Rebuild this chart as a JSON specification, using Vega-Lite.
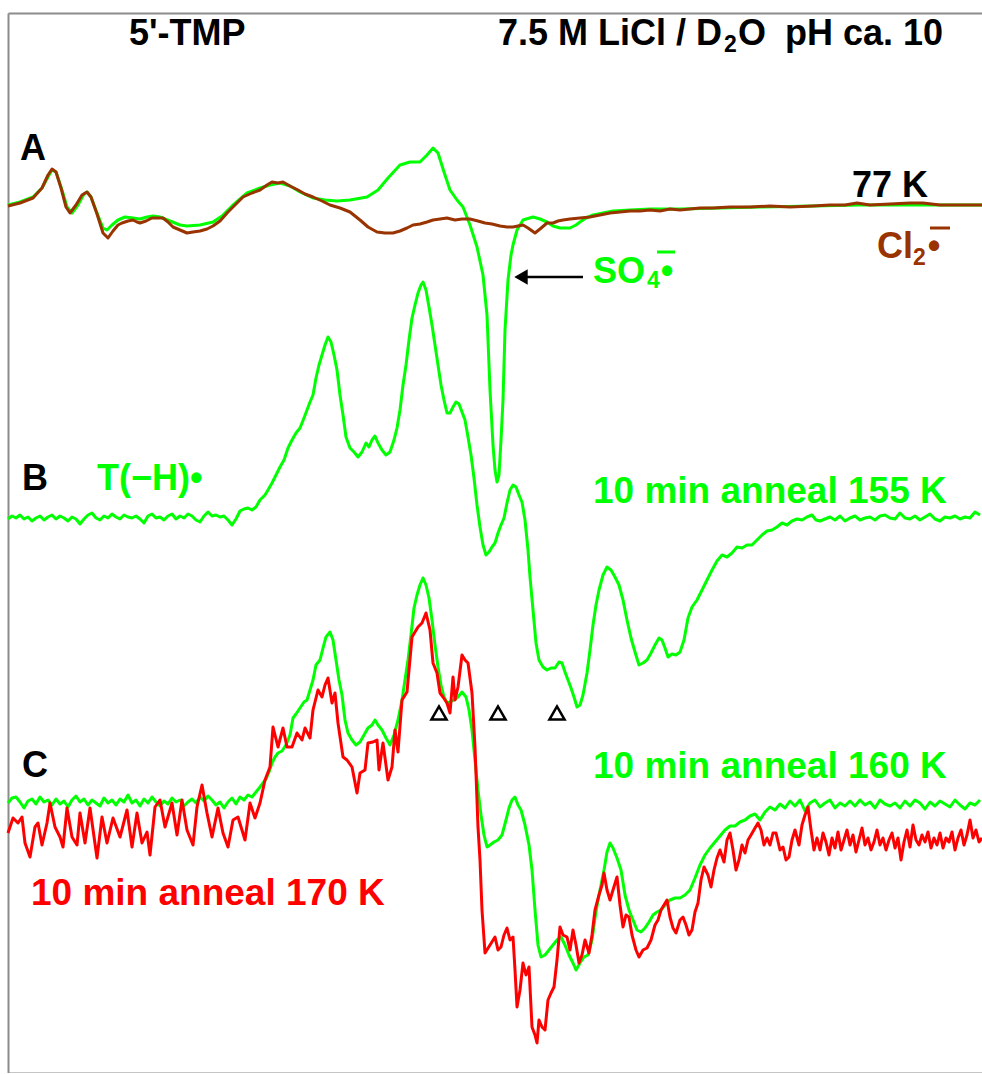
{
  "$schema": "https://vega.github.io/schema/vega-lite/v6.json",
  "description": "ESR spectra of 5'-TMP in 7.5 M LiCl / D2O: (A) 77 K with SO4 and Cl2 radical anions, (B) after 10 min anneal at 155 K, (C) after anneals at 160 K and 170 K. Traces are offset vertically.",
  "width": 974,
  "height": 1060,
  "padding": {"left": 8, "top": 13, "right": 0, "bottom": 0},
  "autosize": {"type": "none"},
  "background": "white",
  "config": {
    "view": {"stroke": null},
    "axis": {"domainColor": "#8c8c8c", "domainWidth": 2, "ticks": false, "labels": false, "grid": false},
    "text": {"font": "Liberation Sans", "fontWeight": "bold"}
  },
  "datasets": {
    "so4_77K": [
      {"x":8,"y":868},{"x":20,"y":871},{"x":33,"y":876},{"x":42,"y":885},{"x":48,"y":896},{"x":52,"y":903},{"x":56,"y":901},{"x":62,"y":883},{"x":67,"y":866},{"x":72,"y":860},{"x":78,"y":868},{"x":84,"y":879},{"x":87,"y":881},{"x":91,"y":876},{"x":97,"y":860},{"x":103,"y":845},{"x":107,"y":843},{"x":112,"y":848},{"x":118,"y":853},{"x":125,"y":856},{"x":133,"y":855},{"x":140,"y":854},{"x":147,"y":856},{"x":153,"y":857},{"x":160,"y":856},{"x":170,"y":852},{"x":180,"y":848},{"x":187,"y":847},{"x":200,"y":848},{"x":213,"y":851},{"x":222,"y":857},{"x":232,"y":867},{"x":247,"y":880},{"x":260,"y":885},{"x":270,"y":888},{"x":280,"y":890},{"x":290,"y":887},{"x":300,"y":881},{"x":313,"y":875},{"x":325,"y":873},{"x":337,"y":872},{"x":350,"y":873},{"x":367,"y":876},{"x":378,"y":883},{"x":388,"y":895},{"x":400,"y":908},{"x":410,"y":911},{"x":420,"y":911},{"x":427,"y":918},{"x":433,"y":925},{"x":438,"y":920},{"x":444,"y":901},{"x":450,"y":883},{"x":457,"y":873},{"x":463,"y":866},{"x":470,"y":848},{"x":477,"y":826},{"x":483,"y":798},{"x":487,"y":758},{"x":490,"y":683},{"x":493,"y":628},{"x":495,"y":603},{"x":497,"y":591},{"x":499,"y":598},{"x":501,"y":633},{"x":503,"y":673},{"x":505,"y":743},{"x":508,"y":793},{"x":511,"y":818},{"x":513,"y":828},{"x":517,"y":843},{"x":523,"y":853},{"x":533,"y":856},{"x":540,"y":854},{"x":547,"y":851},{"x":553,"y":847},{"x":560,"y":845},{"x":570,"y":845},{"x":576,"y":848},{"x":580,"y":851},{"x":586,"y":855},{"x":593,"y":858},{"x":603,"y":860},{"x":613,"y":862},{"x":630,"y":863},{"x":650,"y":864},{"x":680,"y":864},{"x":720,"y":865},{"x":760,"y":866},{"x":813,"y":867},{"x":860,"y":868},{"x":920,"y":868},{"x":982,"y":868}
    ],
    "cl2_77K": [
      {"x":8,"y":867},{"x":20,"y":870},{"x":33,"y":875},{"x":42,"y":885},{"x":48,"y":898},{"x":52,"y":904},{"x":56,"y":901},{"x":61,"y":885},{"x":66,"y":866},{"x":70,"y":860},{"x":76,"y":868},{"x":82,"y":878},{"x":87,"y":881},{"x":91,"y":876},{"x":97,"y":859},{"x":103,"y":840},{"x":108,"y":835},{"x":113,"y":842},{"x":118,"y":848},{"x":122,"y":850},{"x":128,"y":852},{"x":133,"y":853},{"x":137,"y":851},{"x":140,"y":850},{"x":146,"y":852},{"x":152,"y":855},{"x":157,"y":855},{"x":163,"y":855},{"x":168,"y":851},{"x":173,"y":846},{"x":180,"y":843},{"x":187,"y":840},{"x":193,"y":841},{"x":200,"y":842},{"x":207,"y":844},{"x":213,"y":847},{"x":220,"y":852},{"x":228,"y":861},{"x":236,"y":869},{"x":243,"y":876},{"x":252,"y":880},{"x":260,"y":883},{"x":267,"y":888},{"x":272,"y":891},{"x":278,"y":890},{"x":283,"y":891},{"x":290,"y":887},{"x":298,"y":883},{"x":305,"y":879},{"x":313,"y":876},{"x":322,"y":872},{"x":330,"y":868},{"x":340,"y":865},{"x":350,"y":861},{"x":360,"y":853},{"x":368,"y":846},{"x":377,"y":841},{"x":385,"y":840},{"x":393,"y":840},{"x":400,"y":842},{"x":407,"y":845},{"x":413,"y":848},{"x":420,"y":849},{"x":427,"y":851},{"x":433,"y":853},{"x":440,"y":854},{"x":447,"y":855},{"x":455,"y":853},{"x":462,"y":854},{"x":470,"y":854},{"x":478,"y":852},{"x":485,"y":850},{"x":492,"y":849},{"x":500,"y":847},{"x":507,"y":846},{"x":513,"y":846},{"x":518,"y":847},{"x":523,"y":848},{"x":528,"y":845},{"x":535,"y":840},{"x":540,"y":844},{"x":547,"y":850},{"x":553,"y":850},{"x":558,"y":852},{"x":563,"y":853},{"x":570,"y":854},{"x":580,"y":855},{"x":590,"y":856},{"x":600,"y":858},{"x":610,"y":860},{"x":620,"y":861},{"x":630,"y":862},{"x":640,"y":862},{"x":650,"y":863},{"x":660,"y":862},{"x":670,"y":864},{"x":680,"y":863},{"x":690,"y":864},{"x":700,"y":865},{"x":713,"y":865},{"x":730,"y":866},{"x":750,"y":866},{"x":770,"y":867},{"x":790,"y":866},{"x":813,"y":867},{"x":830,"y":868},{"x":845,"y":868},{"x":857,"y":870},{"x":870,"y":868},{"x":890,"y":869},{"x":910,"y":870},{"x":923,"y":870},{"x":940,"y":868},{"x":960,"y":868},{"x":982,"y":868}
    ],
    "anneal155": [
      {"x":8,"y":554},{"x":12,"y":557},{"x":16,"y":555},{"x":20,"y":558},{"x":24,"y":554},{"x":28,"y":556},{"x":32,"y":552},{"x":36,"y":555},{"x":40,"y":557},{"x":44,"y":553},{"x":48,"y":556},{"x":52,"y":558},{"x":56,"y":554},{"x":60,"y":557},{"x":64,"y":555},{"x":68,"y":552},{"x":72,"y":556},{"x":76,"y":554},{"x":80,"y":549},{"x":84,"y":554},{"x":88,"y":558},{"x":92,"y":560},{"x":96,"y":555},{"x":100,"y":553},{"x":104,"y":557},{"x":108,"y":555},{"x":112,"y":559},{"x":116,"y":556},{"x":120,"y":554},{"x":124,"y":558},{"x":128,"y":556},{"x":132,"y":555},{"x":136,"y":557},{"x":140,"y":554},{"x":144,"y":550},{"x":148,"y":557},{"x":152,"y":559},{"x":156,"y":555},{"x":160,"y":556},{"x":164,"y":553},{"x":168,"y":557},{"x":172,"y":559},{"x":176,"y":554},{"x":180,"y":557},{"x":184,"y":555},{"x":188,"y":559},{"x":192,"y":557},{"x":196,"y":553},{"x":200,"y":551},{"x":204,"y":557},{"x":208,"y":561},{"x":212,"y":557},{"x":216,"y":558},{"x":220,"y":556},{"x":224,"y":557},{"x":228,"y":553},{"x":232,"y":548},{"x":236,"y":554},{"x":240,"y":562},{"x":244,"y":564},{"x":248,"y":565},{"x":252,"y":563},{"x":256,"y":566},{"x":260,"y":573},{"x":265,"y":578},{"x":268,"y":583},{"x":272,"y":590},{"x":276,"y":598},{"x":280,"y":606},{"x":284,"y":613},{"x":288,"y":625},{"x":292,"y":633},{"x":296,"y":640},{"x":300,"y":645},{"x":304,"y":655},{"x":307,"y":663},{"x":310,"y":671},{"x":313,"y":678},{"x":316,"y":695},{"x":319,"y":708},{"x":322,"y":718},{"x":325,"y":728},{"x":328,"y":736},{"x":331,"y":731},{"x":334,"y":718},{"x":337,"y":703},{"x":340,"y":678},{"x":343,"y":658},{"x":346,"y":636},{"x":350,"y":625},{"x":354,"y":621},{"x":358,"y":616},{"x":362,"y":621},{"x":366,"y":630},{"x":369,"y":626},{"x":372,"y":633},{"x":375,"y":637},{"x":378,"y":630},{"x":382,"y":623},{"x":386,"y":618},{"x":390,"y":621},{"x":394,"y":633},{"x":397,"y":645},{"x":400,"y":663},{"x":403,"y":688},{"x":406,"y":708},{"x":409,"y":733},{"x":412,"y":755},{"x":415,"y":768},{"x":418,"y":780},{"x":421,"y":788},{"x":423,"y":791},{"x":426,"y":783},{"x":429,"y":766},{"x":432,"y":748},{"x":435,"y":728},{"x":438,"y":708},{"x":441,"y":688},{"x":444,"y":673},{"x":447,"y":660},{"x":450,"y":660},{"x":453,"y":666},{"x":456,"y":671},{"x":459,"y":669},{"x":462,"y":661},{"x":465,"y":653},{"x":468,"y":636},{"x":471,"y":618},{"x":474,"y":595},{"x":477,"y":568},{"x":480,"y":546},{"x":483,"y":528},{"x":486,"y":518},{"x":489,"y":521},{"x":492,"y":526},{"x":495,"y":530},{"x":498,"y":540},{"x":501,"y":548},{"x":504,"y":555},{"x":507,"y":570},{"x":510,"y":583},{"x":513,"y":588},{"x":516,"y":586},{"x":519,"y":578},{"x":522,"y":571},{"x":525,"y":553},{"x":528,"y":523},{"x":530,"y":496},{"x":533,"y":463},{"x":536,"y":430},{"x":539,"y":413},{"x":543,"y":406},{"x":547,"y":403},{"x":551,"y":405},{"x":555,"y":405},{"x":559,"y":411},{"x":562,"y":410},{"x":565,"y":401},{"x":568,"y":393},{"x":571,"y":385},{"x":574,"y":376},{"x":577,"y":366},{"x":580,"y":368},{"x":583,"y":378},{"x":587,"y":400},{"x":590,"y":423},{"x":593,"y":448},{"x":596,"y":468},{"x":599,"y":483},{"x":603,"y":498},{"x":607,"y":506},{"x":611,"y":503},{"x":615,"y":496},{"x":619,"y":488},{"x":623,"y":473},{"x":627,"y":453},{"x":631,"y":435},{"x":635,"y":421},{"x":639,"y":408},{"x":643,"y":410},{"x":647,"y":413},{"x":651,"y":420},{"x":655,"y":428},{"x":659,"y":435},{"x":662,"y":433},{"x":665,"y":425},{"x":668,"y":416},{"x":672,"y":419},{"x":676,"y":418},{"x":680,"y":421},{"x":684,"y":433},{"x":688,"y":455},{"x":692,"y":466},{"x":697,"y":473},{"x":702,"y":483},{"x":707,"y":493},{"x":712,"y":503},{"x":717,"y":512},{"x":722,"y":518},{"x":727,"y":516},{"x":732,"y":520},{"x":737,"y":526},{"x":742,"y":525},{"x":747,"y":528},{"x":752,"y":528},{"x":757,"y":533},{"x":762,"y":538},{"x":767,"y":542},{"x":772,"y":543},{"x":777,"y":546},{"x":782,"y":550},{"x":787,"y":548},{"x":792,"y":552},{"x":797,"y":554},{"x":802,"y":553},{"x":807,"y":556},{"x":812,"y":558},{"x":816,"y":553},{"x":820,"y":552},{"x":825,"y":554},{"x":830,"y":556},{"x":835,"y":553},{"x":840,"y":557},{"x":845,"y":552},{"x":850,"y":555},{"x":855,"y":557},{"x":860,"y":553},{"x":865,"y":555},{"x":870,"y":556},{"x":875,"y":553},{"x":880,"y":557},{"x":885,"y":558},{"x":890,"y":555},{"x":895,"y":554},{"x":900,"y":560},{"x":905,"y":555},{"x":910,"y":554},{"x":915,"y":557},{"x":920,"y":553},{"x":925,"y":556},{"x":930,"y":559},{"x":935,"y":554},{"x":940,"y":552},{"x":945,"y":556},{"x":950,"y":555},{"x":955,"y":557},{"x":960,"y":554},{"x":965,"y":556},{"x":970,"y":555},{"x":975,"y":561},{"x":980,"y":558}
    ],
    "anneal160": [
      {"x":8,"y":270},{"x":12,"y":275},{"x":16,"y":276},{"x":20,"y":271},{"x":24,"y":265},{"x":28,"y":272},{"x":32,"y":274},{"x":36,"y":269},{"x":40,"y":276},{"x":44,"y":271},{"x":48,"y":273},{"x":52,"y":268},{"x":56,"y":274},{"x":60,"y":269},{"x":64,"y":272},{"x":68,"y":266},{"x":72,"y":273},{"x":76,"y":277},{"x":80,"y":271},{"x":84,"y":274},{"x":88,"y":268},{"x":92,"y":273},{"x":96,"y":270},{"x":100,"y":267},{"x":104,"y":275},{"x":108,"y":270},{"x":112,"y":273},{"x":116,"y":268},{"x":120,"y":274},{"x":124,"y":271},{"x":128,"y":278},{"x":132,"y":270},{"x":136,"y":273},{"x":140,"y":267},{"x":144,"y":274},{"x":148,"y":270},{"x":152,"y":276},{"x":156,"y":271},{"x":160,"y":267},{"x":164,"y":272},{"x":168,"y":269},{"x":172,"y":275},{"x":176,"y":271},{"x":180,"y":273},{"x":184,"y":267},{"x":188,"y":271},{"x":192,"y":274},{"x":196,"y":270},{"x":200,"y":276},{"x":204,"y":272},{"x":208,"y":277},{"x":212,"y":273},{"x":216,"y":268},{"x":220,"y":271},{"x":224,"y":265},{"x":228,"y":271},{"x":232,"y":275},{"x":236,"y":269},{"x":240,"y":276},{"x":244,"y":273},{"x":248,"y":278},{"x":252,"y":276},{"x":256,"y":281},{"x":260,"y":286},{"x":263,"y":290},{"x":266,"y":294},{"x":269,"y":301},{"x":272,"y":310},{"x":275,"y":316},{"x":278,"y":320},{"x":282,"y":322},{"x":286,"y":328},{"x":290,"y":338},{"x":293,"y":355},{"x":296,"y":359},{"x":300,"y":365},{"x":304,"y":371},{"x":307,"y":373},{"x":310,"y":383},{"x":313,"y":393},{"x":316,"y":408},{"x":320,"y":413},{"x":323,"y":425},{"x":326,"y":436},{"x":330,"y":441},{"x":333,"y":433},{"x":336,"y":413},{"x":339,"y":393},{"x":342,"y":378},{"x":345,"y":353},{"x":348,"y":340},{"x":352,"y":333},{"x":356,"y":328},{"x":360,"y":331},{"x":364,"y":338},{"x":368,"y":345},{"x":372,"y":348},{"x":375,"y":353},{"x":378,"y":348},{"x":382,"y":343},{"x":386,"y":335},{"x":390,"y":328},{"x":394,"y":338},{"x":398,"y":353},{"x":402,"y":373},{"x":405,"y":393},{"x":408,"y":413},{"x":411,"y":438},{"x":414,"y":465},{"x":417,"y":478},{"x":420,"y":488},{"x":423,"y":495},{"x":426,"y":488},{"x":429,"y":475},{"x":432,"y":453},{"x":435,"y":428},{"x":438,"y":406},{"x":441,"y":388},{"x":444,"y":376},{"x":447,"y":370},{"x":450,"y":371},{"x":454,"y":373},{"x":458,"y":376},{"x":462,"y":381},{"x":466,"y":376},{"x":469,"y":363},{"x":472,"y":343},{"x":475,"y":313},{"x":478,"y":283},{"x":481,"y":258},{"x":484,"y":238},{"x":487,"y":226},{"x":490,"y":228},{"x":494,"y":231},{"x":498,"y":233},{"x":502,"y":238},{"x":506,"y":253},{"x":509,"y":265},{"x":512,"y":273},{"x":515,"y":276},{"x":518,"y":268},{"x":521,"y":263},{"x":525,"y":248},{"x":529,"y":228},{"x":532,"y":203},{"x":535,"y":163},{"x":538,"y":128},{"x":541,"y":116},{"x":545,"y":118},{"x":549,"y":123},{"x":553,"y":128},{"x":557,"y":133},{"x":561,"y":136},{"x":565,"y":128},{"x":569,"y":118},{"x":573,"y":110},{"x":576,"y":103},{"x":580,"y":110},{"x":584,"y":116},{"x":588,"y":118},{"x":592,"y":133},{"x":595,"y":155},{"x":598,"y":173},{"x":601,"y":188},{"x":604,"y":203},{"x":607,"y":221},{"x":610,"y":230},{"x":613,"y":225},{"x":617,"y":215},{"x":621,"y":203},{"x":625,"y":178},{"x":629,"y":163},{"x":633,"y":153},{"x":637,"y":143},{"x":641,"y":141},{"x":645,"y":145},{"x":649,"y":151},{"x":653,"y":158},{"x":657,"y":161},{"x":661,"y":163},{"x":665,"y":168},{"x":670,"y":173},{"x":675,"y":175},{"x":680,"y":175},{"x":685,"y":178},{"x":690,"y":183},{"x":695,"y":195},{"x":700,"y":208},{"x":705,"y":218},{"x":710,"y":225},{"x":715,"y":231},{"x":720,"y":237},{"x":725,"y":243},{"x":730,"y":247},{"x":735,"y":247},{"x":740,"y":251},{"x":745,"y":253},{"x":750,"y":257},{"x":755,"y":259},{"x":760,"y":253},{"x":765,"y":261},{"x":770,"y":266},{"x":775,"y":263},{"x":780,"y":269},{"x":785,"y":265},{"x":790,"y":272},{"x":795,"y":267},{"x":800,"y":273},{"x":805,"y":262},{"x":810,"y":270},{"x":815,"y":273},{"x":820,"y":266},{"x":825,"y":270},{"x":830,"y":273},{"x":835,"y":265},{"x":840,"y":270},{"x":845,"y":267},{"x":850,"y":272},{"x":855,"y":267},{"x":860,"y":273},{"x":865,"y":268},{"x":870,"y":271},{"x":875,"y":265},{"x":880,"y":273},{"x":885,"y":269},{"x":890,"y":267},{"x":895,"y":270},{"x":900,"y":265},{"x":905,"y":272},{"x":910,"y":267},{"x":915,"y":273},{"x":920,"y":270},{"x":925,"y":264},{"x":930,"y":271},{"x":935,"y":267},{"x":940,"y":272},{"x":945,"y":269},{"x":950,"y":266},{"x":955,"y":273},{"x":960,"y":268},{"x":965,"y":264},{"x":970,"y":270},{"x":975,"y":268},{"x":980,"y":273}
    ],
    "anneal170": [
      {"x":8,"y":240},{"x":13,"y":255},{"x":18,"y":250},{"x":22,"y":256},{"x":25,"y":230},{"x":30,"y":216},{"x":35,"y":246},{"x":38,"y":250},{"x":42,"y":228},{"x":47,"y":250},{"x":50,"y":270},{"x":55,"y":246},{"x":60,"y":236},{"x":63,"y":226},{"x":67,"y":265},{"x":72,"y":236},{"x":77,"y":228},{"x":80,"y":260},{"x":85,"y":230},{"x":90,"y":265},{"x":97,"y":215},{"x":102,"y":256},{"x":107,"y":230},{"x":113,"y":255},{"x":120,"y":236},{"x":127,"y":263},{"x":132,"y":226},{"x":137,"y":260},{"x":142,"y":230},{"x":147,"y":241},{"x":150,"y":218},{"x":155,"y":266},{"x":160,"y":273},{"x":165,"y":246},{"x":172,"y":270},{"x":177,"y":238},{"x":182,"y":273},{"x":187,"y":243},{"x":193,"y":228},{"x":197,"y":266},{"x":202,"y":288},{"x":207,"y":260},{"x":212,"y":236},{"x":218,"y":265},{"x":223,"y":240},{"x":228,"y":226},{"x":233,"y":253},{"x":238,"y":256},{"x":245,"y":233},{"x":250,"y":270},{"x":255,"y":255},{"x":260,"y":270},{"x":265,"y":293},{"x":270,"y":306},{"x":273,"y":346},{"x":278,"y":326},{"x":283,"y":345},{"x":287,"y":326},{"x":292,"y":326},{"x":297,"y":340},{"x":302,"y":333},{"x":305,"y":345},{"x":310,"y":335},{"x":313,"y":363},{"x":318,"y":383},{"x":322,"y":376},{"x":325,"y":388},{"x":328,"y":395},{"x":332,"y":370},{"x":335,"y":380},{"x":338,"y":350},{"x":343,"y":316},{"x":347,"y":313},{"x":352,"y":306},{"x":357,"y":280},{"x":360,"y":300},{"x":365,"y":303},{"x":368,"y":330},{"x":373,"y":331},{"x":377,"y":333},{"x":379,"y":303},{"x":383,"y":330},{"x":388,"y":293},{"x":392,"y":306},{"x":395,"y":343},{"x":398,"y":321},{"x":402,"y":373},{"x":407,"y":381},{"x":412,"y":436},{"x":415,"y":441},{"x":418,"y":446},{"x":422,"y":450},{"x":426,"y":460},{"x":430,"y":443},{"x":433,"y":410},{"x":437,"y":400},{"x":440,"y":380},{"x":443,"y":376},{"x":447,"y":370},{"x":450,"y":360},{"x":453,"y":396},{"x":455,"y":373},{"x":458,"y":386},{"x":462,"y":418},{"x":465,"y":413},{"x":468,"y":410},{"x":472,"y":380},{"x":475,"y":326},{"x":478,"y":246},{"x":480,"y":213},{"x":482,"y":163},{"x":485,"y":120},{"x":490,"y":128},{"x":495,"y":136},{"x":498,"y":123},{"x":501,"y":126},{"x":504,"y":138},{"x":507,"y":145},{"x":510,"y":133},{"x":513,"y":136},{"x":515,"y":103},{"x":517,"y":66},{"x":520,"y":83},{"x":523,"y":110},{"x":526,"y":98},{"x":529,"y":106},{"x":532,"y":46},{"x":535,"y":38},{"x":537,"y":30},{"x":539,"y":53},{"x":542,"y":46},{"x":545,"y":43},{"x":548,"y":73},{"x":551,"y":80},{"x":554,"y":86},{"x":557,"y":113},{"x":560,"y":146},{"x":563,"y":138},{"x":567,"y":136},{"x":570,"y":123},{"x":573,"y":143},{"x":576,"y":128},{"x":579,"y":110},{"x":582,"y":118},{"x":585,"y":133},{"x":589,"y":120},{"x":592,"y":138},{"x":595,"y":163},{"x":599,"y":178},{"x":602,"y":188},{"x":604,"y":200},{"x":607,"y":183},{"x":610,"y":173},{"x":613,"y":183},{"x":617,"y":196},{"x":620,"y":168},{"x":623,"y":146},{"x":626,"y":158},{"x":629,"y":156},{"x":632,"y":138},{"x":636,"y":123},{"x":639,"y":116},{"x":643,"y":123},{"x":647,"y":125},{"x":651,"y":133},{"x":655,"y":148},{"x":658,"y":153},{"x":661,"y":163},{"x":664,"y":168},{"x":667,"y":173},{"x":670,"y":156},{"x":673,"y":145},{"x":676,"y":140},{"x":680,"y":153},{"x":683,"y":156},{"x":686,"y":148},{"x":689,"y":138},{"x":692,"y":143},{"x":695,"y":161},{"x":698,"y":170},{"x":701,"y":193},{"x":704,"y":206},{"x":708,"y":198},{"x":711,"y":186},{"x":714,"y":203},{"x":717,"y":215},{"x":720,"y":223},{"x":724,"y":211},{"x":727,"y":233},{"x":730,"y":240},{"x":733,"y":223},{"x":736,"y":203},{"x":739,"y":213},{"x":742,"y":228},{"x":745,"y":220},{"x":748,"y":233},{"x":751,"y":238},{"x":755,"y":245},{"x":758,"y":250},{"x":761,"y":243},{"x":764,"y":228},{"x":767,"y":235},{"x":770,"y":228},{"x":773,"y":240},{"x":776,"y":240},{"x":780,"y":223},{"x":783,"y":226},{"x":786,"y":213},{"x":789,"y":216},{"x":792,"y":233},{"x":795,"y":243},{"x":799,"y":228},{"x":802,"y":248},{"x":805,"y":258},{"x":808,"y":266},{"x":811,"y":243},{"x":814,"y":223},{"x":817,"y":235},{"x":820,"y":223},{"x":823,"y":240},{"x":826,"y":231},{"x":829,"y":218},{"x":832,"y":235},{"x":835,"y":225},{"x":838,"y":241},{"x":841,"y":223},{"x":844,"y":233},{"x":847,"y":243},{"x":850,"y":228},{"x":853,"y":238},{"x":856,"y":221},{"x":859,"y":233},{"x":862,"y":245},{"x":865,"y":228},{"x":868,"y":235},{"x":871,"y":223},{"x":874,"y":231},{"x":877,"y":243},{"x":880,"y":228},{"x":883,"y":235},{"x":886,"y":223},{"x":889,"y":233},{"x":892,"y":240},{"x":895,"y":225},{"x":898,"y":235},{"x":901,"y":213},{"x":904,"y":231},{"x":907,"y":243},{"x":910,"y":226},{"x":913,"y":248},{"x":916,"y":233},{"x":919,"y":228},{"x":922,"y":238},{"x":925,"y":231},{"x":928,"y":241},{"x":931,"y":225},{"x":934,"y":235},{"x":937,"y":228},{"x":940,"y":240},{"x":943,"y":225},{"x":946,"y":235},{"x":949,"y":231},{"x":952,"y":241},{"x":955,"y":223},{"x":958,"y":235},{"x":961,"y":243},{"x":964,"y":228},{"x":967,"y":238},{"x":970,"y":253},{"x":973,"y":235},{"x":976,"y":243},{"x":979,"y":231},{"x":982,"y":235}
    ],
    "labels": [
      {"x":129,"y":1028,"label":"5'-TMP","tone":"ink"},
      {"x":498,"y":1028,"label":"7.5 M LiCl / D","tone":"ink"},
      {"x":738,"y":1028,"label":"O","tone":"ink"},
      {"x":785,"y":1028,"label":"pH ca. 10","tone":"ink"},
      {"x":20,"y":913,"label":"A","tone":"ink"},
      {"x":852,"y":876,"label":"77 K","tone":"ink"},
      {"x":22,"y":583,"label":"B","tone":"ink"},
      {"x":22,"y":296,"label":"C","tone":"ink"},
      {"x":877,"y":815,"label":"Cl","tone":"brown"},
      {"x":593,"y":790,"label":"SO","tone":"green"},
      {"x":97,"y":583,"label":"T(−H)•","tone":"green"}
    ],
    "anneal_labels": [
      {"x":593,"y":570,"label":"10 min anneal 155 K","tone":"green"},
      {"x":593,"y":295,"label":"10 min anneal 160 K","tone":"green"},
      {"x":31,"y":168,"label":"10 min anneal 170 K","tone":"red"}
    ],
    "subscripts": [
      {"x":724,"y":1021,"label":"2","tone":"ink"},
      {"x":913,"y":808,"label":"2","tone":"brown"},
      {"x":647,"y":785,"label":"4","tone":"green"}
    ],
    "radical_dots": [
      {"x":667,"y":790,"label":"•","tone":"green"},
      {"x":934,"y":815,"label":"•","tone":"brown"}
    ],
    "charge_bars": [
      {"x":657,"x2":675,"y":821,"tone":"green"},
      {"x":930,"x2":950,"y":845,"tone":"brown"}
    ],
    "arrow": [
      {"x":523,"x2":583,"y":796}
    ],
    "arrow_head": [
      {"x":521,"y":796}
    ],
    "markers": [
      {"x":439,"y":360},
      {"x":498,"y":360},
      {"x":557,"y":360}
    ]
  },
  "encoding": {
    "x": {"field": "x", "type": "quantitative", "scale": {"domain": [8, 982], "nice": false, "zero": false}, "axis": null},
    "y": {"field": "y", "type": "quantitative", "scale": {"domain": [0, 1060], "nice": false, "zero": false}, "axis": {"orient": "left", "title": null}}
  },
  "layer": [
    {
      "data": {"name": "so4_77K"},
      "mark": {"type": "line", "color": "#00ff00", "strokeWidth": 3, "strokeJoin": "round"},
      "encoding": {
        "x": {"field": "x", "type": "quantitative", "scale": {"domain": [8, 982], "nice": false, "zero": false}, "axis": {"orient": "bottom", "title": null}}
      }
    },
    {
      "data": {"name": "cl2_77K"},
      "mark": {"type": "line", "color": "#993300", "strokeWidth": 3, "strokeJoin": "round"},
      "encoding": {
        "x": {"field": "x", "type": "quantitative", "scale": {"domain": [8, 982], "nice": false, "zero": false}, "axis": {"orient": "top", "title": null}}
      }
    },
    {
      "data": {"name": "anneal155"},
      "mark": {"type": "line", "color": "#00ff00", "strokeWidth": 3, "strokeJoin": "round"}
    },
    {
      "data": {"name": "anneal160"},
      "mark": {"type": "line", "color": "#00ff00", "strokeWidth": 3, "strokeJoin": "round"}
    },
    {
      "data": {"name": "anneal170"},
      "mark": {"type": "line", "color": "#ff0000", "strokeWidth": 3, "strokeJoin": "round"}
    },
    {
      "data": {"name": "arrow"},
      "mark": {"type": "rule", "color": "#000000", "strokeWidth": 2.5},
      "encoding": {"x2": {"field": "x2"}}
    },
    {
      "data": {"name": "arrow_head"},
      "mark": {"type": "point", "shape": "triangle-left", "filled": true, "color": "#000000", "size": 240, "opacity": 1}
    },
    {
      "data": {"name": "markers"},
      "mark": {"type": "point", "shape": "triangle-up", "filled": false, "color": "#000000", "strokeWidth": 2.5, "size": 230, "opacity": 1}
    },
    {
      "data": {"name": "charge_bars"},
      "mark": {"type": "rule", "strokeWidth": 3},
      "encoding": {
        "x2": {"field": "x2"},
        "color": {"field": "tone", "type": "nominal", "scale": {"domain": ["ink", "green", "brown", "red"], "range": ["#000000", "#00ff00", "#993300", "#ff0000"]}, "legend": null}
      }
    },
    {
      "data": {"name": "labels"},
      "mark": {"type": "text", "fontSize": 36, "align": "left", "baseline": "alphabetic"},
      "encoding": {
        "text": {"field": "label"},
        "color": {"field": "tone", "type": "nominal", "scale": {"domain": ["ink", "green", "brown", "red"], "range": ["#000000", "#00ff00", "#993300", "#ff0000"]}, "legend": null}
      }
    },
    {
      "data": {"name": "anneal_labels"},
      "mark": {"type": "text", "fontSize": 37, "align": "left", "baseline": "alphabetic"},
      "encoding": {
        "text": {"field": "label"},
        "color": {"field": "tone", "type": "nominal", "scale": {"domain": ["ink", "green", "brown", "red"], "range": ["#000000", "#00ff00", "#993300", "#ff0000"]}, "legend": null}
      }
    },
    {
      "data": {"name": "subscripts"},
      "mark": {"type": "text", "fontSize": 23, "align": "left", "baseline": "alphabetic"},
      "encoding": {
        "text": {"field": "label"},
        "color": {"field": "tone", "type": "nominal", "scale": {"domain": ["ink", "green", "brown", "red"], "range": ["#000000", "#00ff00", "#993300", "#ff0000"]}, "legend": null}
      }
    },
    {
      "data": {"name": "radical_dots"},
      "mark": {"type": "text", "fontSize": 36, "align": "center", "baseline": "alphabetic"},
      "encoding": {
        "text": {"field": "label"},
        "color": {"field": "tone", "type": "nominal", "scale": {"domain": ["ink", "green", "brown", "red"], "range": ["#000000", "#00ff00", "#993300", "#ff0000"]}, "legend": null}
      }
    }
  ],
  "resolve": {"axis": {"x": "independent"}}
}
